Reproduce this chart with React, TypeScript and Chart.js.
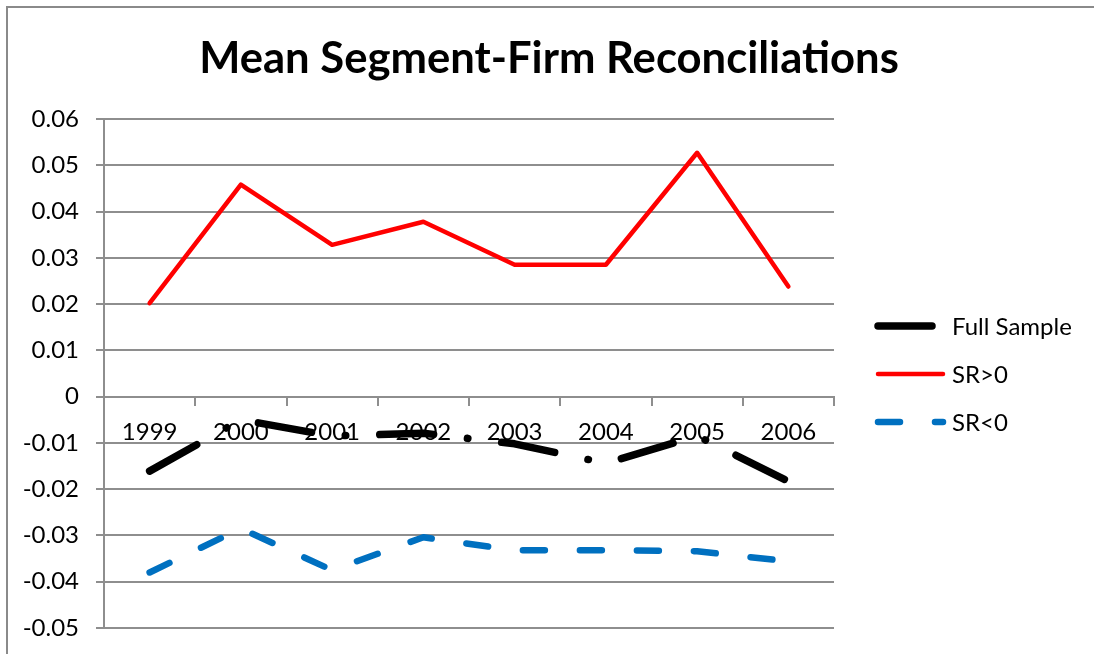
import React, { useEffect, useRef } from "react";
import { Chart, registerables } from "chart.js";

Chart.register(...registerables);

const TITLE = "Mean Segment-Firm Reconciliations";
const years = ["1999", "2000", "2001", "2002", "2003", "2004", "2005", "2006"];
const seriesNames = ["Full Sample", "SR>0", "SR<0"];
const fullSample = [-0.0161, -0.005, -0.0085, -0.0079, -0.0102, -0.0144, -0.0085, -0.0183];
const srPositive = [0.0202, 0.0458, 0.0328, 0.0378, 0.0285, 0.0285, 0.0527, 0.0238];
const srNegative = [-0.038, -0.0285, -0.0375, -0.0304, -0.0332, -0.0332, -0.0334, -0.0356];
const yTickLabels = ["-0.05", "-0.04", "-0.03", "-0.02", "-0.01", "0", "0.01", "0.02", "0.03", "0.04", "0.05", "0.06"];
const Y_MIN = -0.05;
const Y_MAX = 0.06;
const Y_STEP = 0.01;

const GRID = "#8e8e8e";
const FONT = "Lato";

export default function App() {
  const ref = useRef<HTMLCanvasElement | null>(null);

  useEffect(() => {
    const canvas = ref.current;
    if (!canvas) return;

    const decor = {
      id: "decor",
      beforeDraw(chart: any) {
        const ctx = chart.ctx;
        ctx.save();
        ctx.fillStyle = "#ffffff";
        ctx.fillRect(0, 0, chart.width, chart.height);
        ctx.strokeStyle = "#8a8a8a";
        ctx.lineWidth = 2;
        ctx.beginPath();
        ctx.moveTo(7, chart.height);
        ctx.lineTo(7, 7);
        ctx.lineTo(chart.width, 7);
        ctx.stroke();
        ctx.restore();
      },
      afterDraw(chart: any) {
        const ctx = chart.ctx;
        ctx.save();
        // title
        ctx.fillStyle = "#000000";
        ctx.font = `bold 43.6px ${FONT}`;
        ctx.textAlign = "center";
        ctx.textBaseline = "alphabetic";
        ctx.fillText(TITLE, 549, 73);
        // legend
        chart.data.datasets.forEach((ds: any, i: number) => {
          const y = 326 + i * 48;
          ctx.save();
          ctx.strokeStyle = ds.borderColor;
          ctx.lineWidth = ds.borderWidth;
          ctx.lineCap = "round";
          ctx.setLineDash(ds.borderDash || []);
          ctx.beginPath();
          ctx.moveTo(878, y);
          ctx.lineTo(943, y);
          ctx.stroke();
          ctx.restore();
          ctx.font = `24px ${FONT}`;
          ctx.textAlign = "left";
          ctx.textBaseline = "middle";
          ctx.fillStyle = "#000000";
          ctx.fillText(ds.label, 952, y + 1);
        });
        ctx.restore();
      },
    };

    const chart = new Chart(canvas, {
      type: "line",
      data: {
        labels: years,
        datasets: [
          {
            label: seriesNames[0],
            data: fullSample,
            borderColor: "#000000",
            borderWidth: 7.5,
            borderDash: [54, 34, 0.5, 34],
            borderCapStyle: "round",
            borderJoinStyle: "round",
            pointRadius: 0,
            tension: 0,
            fill: false,
          },
          {
            label: seriesNames[1],
            data: srPositive,
            borderColor: "#ff0000",
            borderWidth: 4.5,
            borderCapStyle: "round",
            borderJoinStyle: "round",
            pointRadius: 0,
            tension: 0,
            fill: false,
          },
          {
            label: seriesNames[2],
            data: srNegative,
            borderColor: "#0070c0",
            borderWidth: 6.5,
            borderDash: [22, 35],
            borderCapStyle: "round",
            borderJoinStyle: "round",
            pointRadius: 0,
            tension: 0,
            fill: false,
          },
        ],
      },
      options: {
        responsive: false,
        animation: false,
        devicePixelRatio: 1,
        layout: { padding: { left: 0, top: 119, right: 260, bottom: 26 } },
        plugins: {
          legend: { display: false },
          title: { display: false },
          tooltip: { enabled: false },
        },
        scales: {
          x: {
            type: "category",
            position: { y: 0 } as any,
            offset: true,
            afterFit: (s: any) => {
              s.height = 0;
            },
            grid: {
              display: true,
              drawOnChartArea: false,
              drawTicks: true,
              tickLength: 8,
              color: GRID,
              lineWidth: 2,
              offset: true,
            },
            border: { display: true, color: GRID, width: 2 },
            ticks: {
              color: "#000000",
              font: { family: FONT, size: 24 },
              padding: 13,
              maxRotation: 0,
              autoSkip: false,
            },
          },
          y: {
            type: "linear",
            min: Y_MIN,
            max: Y_MAX,
            afterFit: (s: any) => {
              s.width = 104;
              s.paddingTop = 0;
              s.paddingBottom = 0;
            },
            ticks: {
              stepSize: Y_STEP,
              padding: 17,
              color: "#000000",
              font: { family: FONT, size: 24 },
              callback: (v: any, i: number) => yTickLabels[i] ?? String(Math.round(Number(v) * 100) / 100),
            },
            grid: { color: GRID, lineWidth: 2, tickLength: 8, drawTicks: true },
            border: { display: true, color: GRID, width: 2 },
          },
        },
      },
      plugins: [decor],
    } as any);

    return () => chart.destroy();
  }, []);

  return (
    <div style={{ position: "absolute", left: 0, top: 0, width: 1094, height: 654 }}>
      <canvas ref={ref} width={1094} height={654} style={{ display: "block", width: 1094, height: 654 }} />
    </div>
  );
}
